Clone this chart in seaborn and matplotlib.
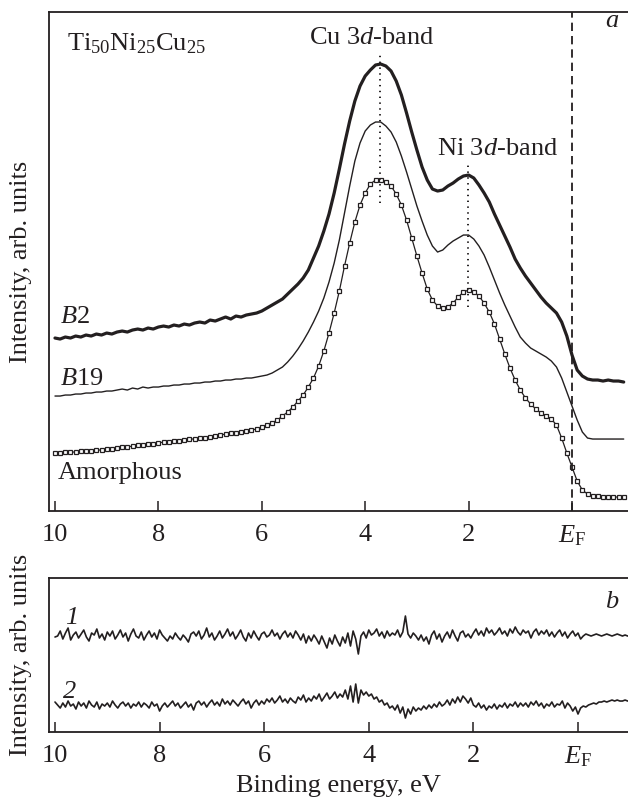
import numpy as np
import pandas as pd
import seaborn as sns
import matplotlib.pyplot as plt

# binding energy grid (eV), 0 = E_F -- panel a
energy = [10.0, 9.9, 9.8, 9.7, 9.6, 9.5, 9.4, 9.3, 9.2, 9.1,
          9.0, 8.9, 8.8, 8.7, 8.6, 8.5, 8.4, 8.3, 8.2, 8.1,
          8.0, 7.9, 7.8, 7.7, 7.6, 7.5, 7.4, 7.3, 7.2, 7.1,
          7.0, 6.9, 6.8, 6.7, 6.6, 6.5, 6.4, 6.3, 6.2, 6.1,
          6.0, 5.9, 5.8, 5.7, 5.6, 5.5, 5.4, 5.3, 5.2, 5.1,
          5.0, 4.9, 4.8, 4.7, 4.6, 4.5, 4.4, 4.3, 4.2, 4.1,
          4.0, 3.9, 3.8, 3.7, 3.6, 3.5, 3.4, 3.3, 3.2, 3.1,
          3.0, 2.9, 2.8, 2.7, 2.6, 2.5, 2.4, 2.3, 2.2, 2.1,
          2.0, 1.9, 1.8, 1.7, 1.6, 1.5, 1.4, 1.3, 1.2, 1.1,
          1.0, 0.9, 0.8, 0.7, 0.6, 0.5, 0.4, 0.3, 0.2, 0.1,
          0.0, -0.1, -0.2, -0.3, -0.4, -0.5, -0.6, -0.7, -0.8, -0.9,
          -1.0]

# panel a: spectra (arb. units)
b2 = [173, 172, 174, 173, 175, 174, 176, 175, 177, 176,
      178, 177, 179, 180, 179, 181, 182, 181, 183, 182,
      184, 185, 184, 186, 185, 187, 186, 188, 189, 188,
      191, 190, 192, 194, 192, 195, 194, 196, 197, 198,
      200, 203, 206, 209, 212, 217, 222, 227, 233, 241,
      253, 265, 280, 297, 318, 342, 367, 390, 410, 425,
      435, 441, 446, 447, 445, 440, 430, 416, 398, 379,
      361, 344, 331, 322, 320, 321, 325, 328, 332, 335,
      336, 333, 326, 318, 309, 297, 286, 275, 264, 252,
      243, 235, 228, 221, 214, 208, 203, 198, 189, 175,
      156, 141, 135, 132, 131, 131, 130, 131, 130, 130,
      129]
b19 = [115, 115, 116, 116, 117, 117, 118, 118, 119, 119,
       120, 120, 121, 122, 121, 123, 122, 124, 123, 124,
       124, 125, 125, 126, 126, 127, 127, 128, 128, 129,
       129, 130, 130, 131, 131, 132, 132, 133, 133, 134,
       135, 136, 138, 141, 144, 149, 155, 162, 170, 179,
       189, 200, 213, 229, 248, 271, 298, 325, 350, 368,
       380, 386, 389, 389, 385, 379, 369, 355, 339, 322,
       305, 290, 276, 265, 259, 261, 266, 270, 273, 276,
       276, 272, 265, 256, 244, 231, 218, 206, 195, 184,
       174, 168, 163, 160, 157, 154, 150, 144, 133, 119,
       105, 91, 79, 73, 72, 72, 72, 72, 72, 72,
       72]
amorphous = [58, 58, 59, 59, 59, 60, 60, 60, 61, 61,
             62, 62, 63, 64, 64, 65, 66, 66, 67, 67,
             68, 69, 69, 70, 70, 71, 72, 72, 73, 73,
             74, 75, 76, 77, 78, 78, 79, 80, 81, 82,
             84, 86, 88, 91, 95, 99, 104, 110, 116, 124,
             133, 145, 160, 178, 198, 220, 245, 268, 289, 306,
             318, 327, 331, 331, 329, 325, 317, 306, 291, 273,
             255, 238, 222, 211, 205, 203, 204, 208, 214, 219,
             221, 219, 215, 208, 199, 187, 172, 157, 143, 131,
             121, 113, 107, 102, 98, 95, 92, 86, 73, 58,
             44, 30, 21, 17, 15, 15, 14, 14, 14, 14,
             14]

# panel b: difference curves on a 0.05 eV grid
energy_b = [10.0, 9.95, 9.9, 9.85, 9.8, 9.75, 9.7, 9.65, 9.6, 9.55,
            9.5, 9.45, 9.4, 9.35, 9.3, 9.25, 9.2, 9.15, 9.1, 9.05,
            9.0, 8.95, 8.9, 8.85, 8.8, 8.75, 8.7, 8.65, 8.6, 8.55,
            8.5, 8.45, 8.4, 8.35, 8.3, 8.25, 8.2, 8.15, 8.1, 8.05,
            8.0, 7.95, 7.9, 7.85, 7.8, 7.75, 7.7, 7.65, 7.6, 7.55,
            7.5, 7.45, 7.4, 7.35, 7.3, 7.25, 7.2, 7.15, 7.1, 7.05,
            7.0, 6.95, 6.9, 6.85, 6.8, 6.75, 6.7, 6.65, 6.6, 6.55,
            6.5, 6.45, 6.4, 6.35, 6.3, 6.25, 6.2, 6.15, 6.1, 6.05,
            6.0, 5.95, 5.9, 5.85, 5.8, 5.75, 5.7, 5.65, 5.6, 5.55,
            5.5, 5.45, 5.4, 5.35, 5.3, 5.25, 5.2, 5.15, 5.1, 5.05,
            5.0, 4.95, 4.9, 4.85, 4.8, 4.75, 4.7, 4.65, 4.6, 4.55,
            4.5, 4.45, 4.4, 4.35, 4.3, 4.25, 4.2, 4.15, 4.1, 4.05,
            4.0, 3.95, 3.9, 3.85, 3.8, 3.75, 3.7, 3.65, 3.6, 3.55,
            3.5, 3.45, 3.4, 3.35, 3.3, 3.25, 3.2, 3.15, 3.1, 3.05,
            3.0, 2.95, 2.9, 2.85, 2.8, 2.75, 2.7, 2.65, 2.6, 2.55,
            2.5, 2.45, 2.4, 2.35, 2.3, 2.25, 2.2, 2.15, 2.1, 2.05,
            2.0, 1.95, 1.9, 1.85, 1.8, 1.75, 1.7, 1.65, 1.6, 1.55,
            1.5, 1.45, 1.4, 1.35, 1.3, 1.25, 1.2, 1.15, 1.1, 1.05,
            1.0, 0.95, 0.9, 0.85, 0.8, 0.75, 0.7, 0.65, 0.6, 0.55,
            0.5, 0.45, 0.4, 0.35, 0.3, 0.25, 0.2, 0.15, 0.1, 0.05,
            0.0, -0.05, -0.1, -0.15, -0.2, -0.25, -0.3, -0.35, -0.4, -0.45,
            -0.5, -0.55, -0.6, -0.65, -0.7, -0.75, -0.8, -0.85, -0.9, -0.95,
            -1.0]
diff1 = [95, 96, 101, 93, 99, 104, 92, 97, 100, 94,
         98, 102, 95, 91, 99, 97, 103, 94, 98, 92,
         100, 96, 101, 93, 97, 102, 95, 99, 91, 98,
         103, 96, 94, 100, 92, 97, 101, 95, 99, 93,
         102, 97, 94, 91, 96, 93, 99, 95, 92, 97,
         94, 90, 98, 100, 96, 101, 93, 97, 104, 95,
         99, 92, 96, 101, 94, 98, 103, 96, 100, 93,
         97, 102, 95, 91, 99, 94, 101, 96, 92, 98,
         100, 95, 97, 102, 96, 99, 93, 98, 101, 95,
         99, 94, 101, 97, 92, 98, 89, 96, 91, 97,
         93, 88, 96, 90, 84, 94, 88, 97, 91, 86,
         95, 89, 99, 86, 101, 93, 78, 96, 100, 94,
         102, 97, 99, 103, 96, 100, 94, 101, 96, 99,
         97, 102, 95, 100, 116, 98, 94, 99, 96, 92,
         97, 91, 95, 88, 97, 101, 93, 98, 90, 96,
         100, 94, 102, 96, 91, 99, 101, 95, 98, 94,
         99, 103, 97, 101, 96, 104, 99, 102, 97, 100,
         104, 98, 101, 96, 103, 99, 105, 100, 97, 102,
         99, 101, 94, 100, 103, 97, 101, 98, 102, 96,
         100, 95, 99, 102, 96, 100, 94, 98, 101, 96,
         99, 93, 96, 98, 97, 96, 97, 98, 97, 96,
         97, 98, 97, 96, 97, 98, 97, 96, 97, 96,
         96]
diff2 = [30, 27, 24, 29, 25, 31, 26, 28, 23, 30,
         26, 29, 24, 31, 27, 25, 30, 23, 28, 26,
         29, 25, 31, 27, 24, 28, 30, 26, 29, 24,
         28, 26, 30, 25, 29, 27, 24, 30, 26, 28,
         21, 26, 29, 25, 28, 31, 26, 29, 24, 27,
         30, 25, 28, 22, 29, 31, 27, 30, 25, 29,
         32, 27, 30, 26, 33, 28, 31, 27, 32, 29,
         26, 30, 33, 28, 31, 24, 29, 32, 27, 31,
         28, 33, 30, 34, 29, 32, 36, 30, 33, 29,
         34, 31, 29, 35, 32, 37, 30, 34, 31, 36,
         33, 38, 31, 35, 39, 33, 36, 40, 34, 38,
         35, 42, 33, 46, 30, 48, 29, 42, 37, 40,
         36, 38, 33, 35, 30, 32, 27, 29, 24, 26,
         22, 27, 19, 25, 14, 23, 18, 25, 21, 24,
         22, 26, 23, 27, 24, 28, 25, 30, 26, 28,
         32, 27, 33, 29, 35, 30, 36, 33, 29, 34,
         27, 25, 29, 24, 27, 22, 26, 24, 28, 23,
         27, 25, 29, 24, 28, 26, 30, 25, 29, 26,
         29, 25, 30, 27, 31, 26, 29, 24, 28, 26,
         30, 25, 28, 27, 31, 24, 29, 26, 21, 25,
         18, 24, 26, 25, 27, 28, 29, 28, 30, 30,
         31, 30, 31, 32, 31, 32, 31, 31, 32, 31,
         31]

x_ticks = [10, 8, 6, 4, 2, 0]
x_ticklabels = ["10", "8", "6", "4", "2", r"$E_\mathrm{F}$"]

spectra = pd.DataFrame({"energy": energy, "B2": b2, "B19": b19, "Amorphous": amorphous})
diffs = pd.DataFrame({"energy": energy_b, "1": diff1, "2": diff2})

sns.set_style("ticks")
ink = "#231f20"
plt.rcParams.update({
    "font.family": ["Liberation Serif", "DejaVu Serif"],
    "mathtext.fontset": "custom",
    "mathtext.rm": "Liberation Serif",
    "mathtext.it": "Liberation Serif:italic",
    "mathtext.bf": "Liberation Serif:bold",
    "lines.scale_dashes": False,
    "text.color": ink,
    "axes.labelcolor": ink,
    "xtick.color": ink,
    "axes.edgecolor": ink,
})
fs = 19

fig = plt.figure(figsize=(6.28, 8.01), dpi=100)
ax = fig.add_axes([0.078, 0.362, 0.922, 0.623])
ax2 = fig.add_axes([0.078, 0.0861, 0.922, 0.1923])

sns.lineplot(data=spectra, x="energy", y="B2", ax=ax, color=ink, lw=2.3, sort=False)
sns.lineplot(data=spectra, x="energy", y="B19", ax=ax, color=ink, lw=1.0, sort=False)
sns.lineplot(data=spectra, x="energy", y="Amorphous", ax=ax, color=ink, lw=0.9, sort=False,
             marker="s", markersize=3.2, markerfacecolor="white", markeredgecolor=ink,
             markeredgewidth=0.9)

ax.axvline(0, color=ink, lw=1.3, ls=(0, (6, 3.6)))
ax.plot([3.71, 3.71], [308, 458], color=ink, lw=1.4, ls=(0, (1, 3.2)))
ax.plot([2.01, 2.01], [204, 348], color=ink, lw=1.4, ls=(0, (1, 3.2)))

sns.lineplot(data=diffs, x="energy", y="1", ax=ax2, color=ink, lw=1.2, sort=False)
sns.lineplot(data=diffs, x="energy", y="2", ax=ax2, color=ink, lw=1.2, sort=False)

ax.set_xlim(10.116, -1.083)
ax.set_ylim(0, 499)
ax2.set_xlim(10.115, -0.956)
ax2.set_ylim(0, 154)

for a in (ax, ax2):
    a.spines["right"].set_visible(False)
    for s in ("left", "bottom", "top"):
        a.spines[s].set_linewidth(1.3)
    a.set_xticks(x_ticks)
    a.set_xticklabels(x_ticklabels)
    a.tick_params(axis="x", direction="in", length=7, width=1.1, pad=9, labelsize=fs)
    a.set_yticks([])
    a.set_ylabel("Intensity, arb. units", fontsize=fs, labelpad=12)
    a.set_xlabel("")

ax2.set_xlabel("Binding energy, eV", fontsize=fs, labelpad=4)

T = ax.transAxes
ax.text(0.031, 0.924, r"Ti$_{50}$Ni$_{25}$Cu$_{25}$", transform=T, fontsize=fs, va="baseline")
ax.text(0.558, 0.936, r"Cu 3$d$-band", transform=T, fontsize=fs, ha="center", va="baseline")
ax.text(0.775, 0.713, r"Ni 3$d$-band", transform=T, fontsize=fs, ha="center", va="baseline")
ax.text(0.972, 0.970, "a", transform=T, fontsize=fs, ha="center", va="baseline", style="italic")
ax.text(0.019, 0.377, r"$B$2", transform=T, fontsize=fs, va="baseline")
ax.text(0.019, 0.2525, r"$B$19", transform=T, fontsize=fs, va="baseline")
ax.text(0.0155, 0.064, "Amorphous", transform=T, fontsize=fs, va="baseline")

T2 = ax2.transAxes
ax2.text(0.028, 0.70, "1", transform=T2, fontsize=fs, va="baseline", style="italic")
ax2.text(0.024, 0.22, "2", transform=T2, fontsize=fs, va="baseline", style="italic")
ax2.text(0.971, 0.805, "b", transform=T2, fontsize=fs, ha="center", va="baseline", style="italic")

fig.savefig("out.png", dpi=100)
